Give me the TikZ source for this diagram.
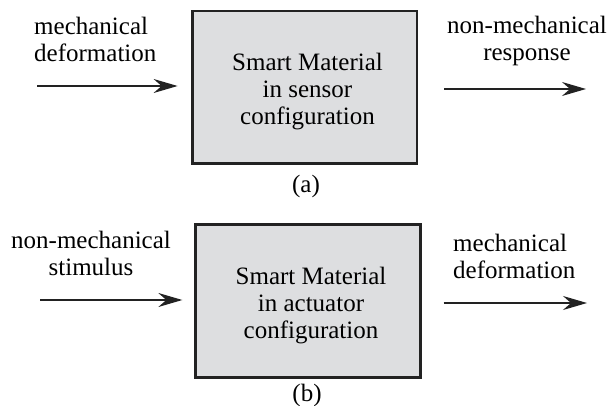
\documentclass[tikz,border=0pt]{standalone}
\usepackage{fontspec}
\setmainfont{Liberation Serif}
\usetikzlibrary{arrows.meta}
\definecolor{boxgray}{RGB}{221,222,224}
\definecolor{edgegray}{RGB}{34,34,34}

\begin{document}
\begin{tikzpicture}[x=1pt,y=1pt]
	 \tikzstyle{every node}+=[inner sep=0pt, font=\fontsize{25}{27}\selectfont]
	 \tikzstyle{matbox}=[draw=edgegray, line width=2.8pt, fill=boxgray, minimum width=224.5pt, minimum height=152.5pt]
	 \tikzstyle{sig}=[-{Stealth[length=24pt,width=14pt,inset=8pt]}, line width=1.5pt, edgegray]
	 \useasboundingbox (0,0) rectangle (612,-406);
	 \node [matbox] (sensor) at (304.75,-87.25) {};
	 \node [matbox] (actuator) at (308,-301) {};
	 \node [anchor=base, align=center] (sensortext) at (307.5,-125) {Smart Material\\in sensor\\configuration};
	 \node [anchor=base, align=center] (actuatortext) at (311,-338) {Smart Material\\in actuator\\configuration};
	 \node [anchor=base west, align=left] (sensorin) at (34,-61.5) {mechanical\\deformation};
	 \node [anchor=base, align=center] (sensorout) at (527,-61) {non-mechanical\\response};
	 \node [anchor=base, align=center] (actuatorin) at (91,-275) {non-mechanical\\stimulus};
	 \node [anchor=base west, align=left] (actuatorout) at (453,-278) {mechanical\\deformation};
	 \node [anchor=base] (capa) at (306,-192) {(a)};
	 \node [anchor=base] (capb) at (307,-401) {(b)};
	 \coordinate (sensorinend) at (37,-86);
	 \coordinate (sensoroutend) at (586,-89);
	 \coordinate (actuatorinend) at (40,-300);
	 \coordinate (actuatoroutend) at (587,-303);
	 \draw [sig, shorten >=13.5pt] (sensorinend) -- (sensor.west |- sensorinend);
	 \draw [sig, shorten <=26pt] (sensor.east |- sensoroutend) -- (sensoroutend);
	 \draw [sig, shorten >=12pt] (actuatorinend) -- (actuator.west |- actuatorinend);
	 \draw [sig, shorten <=22pt] (actuator.east |- actuatoroutend) -- (actuatoroutend);
\end{tikzpicture}
\end{document}
